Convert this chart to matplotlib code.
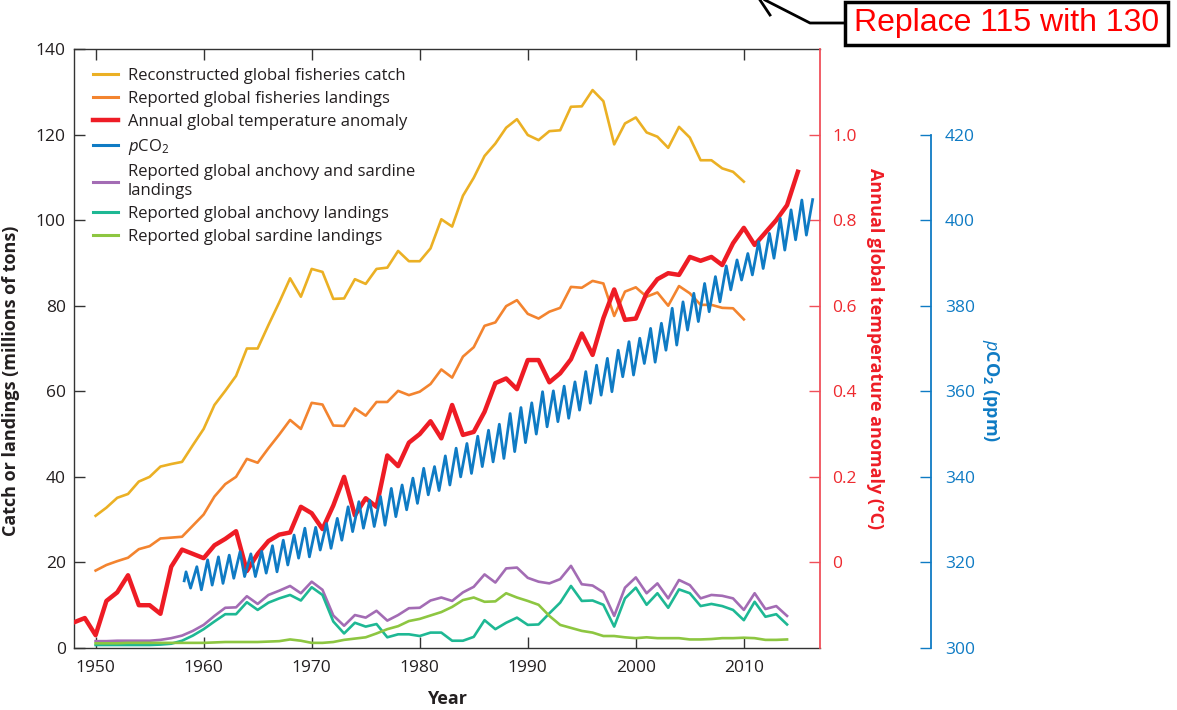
import numpy as np
import matplotlib
matplotlib.use("Agg")
import matplotlib.pyplot as plt
from matplotlib.lines import Line2D
from matplotlib.patches import Rectangle

plt.rcParams['font.family'] = ['Open Sans', 'DejaVu Sans']
plt.rcParams['mathtext.fontset'] = 'custom'
plt.rcParams['mathtext.it'] = 'Open Sans:italic'
plt.rcParams['mathtext.rm'] = 'Open Sans'
plt.rcParams['mathtext.bf'] = 'Open Sans:bold'

# ---------------- data ----------------
years_catch = list(range(1950, 2011))
catch_reconstructed = [30.9, 32.8, 35.1, 36.0, 38.9, 40.0, 42.4, 43.0, 43.5, 47.4,
                       51.2, 56.8, 60.1, 63.6, 70.0, 70.0, 75.5, 80.8, 86.4, 82.1,
                       88.6, 87.9, 81.6, 81.7, 86.2, 85.1, 88.6, 88.9, 92.8, 90.4,
                       90.4, 93.4, 100.2, 98.5, 105.7, 109.9, 115.0, 117.9, 121.6, 123.6,
                       119.9, 118.7, 120.8, 121.0, 126.5, 126.6, 130.4, 127.8, 117.7, 122.6,
                       124.0, 120.5, 119.5, 116.9, 121.8, 119.3, 114.0, 114.0, 112.1, 111.3,
                       109.0]
landings_reported = [18.1, 19.4, 20.3, 21.1, 23.1, 23.8, 25.6, 25.8, 26.0, 28.6,
                     31.2, 35.4, 38.3, 40.0, 44.2, 43.3, 46.7, 49.9, 53.3, 51.2,
                     57.3, 56.9, 52.0, 51.9, 56.0, 54.3, 57.5, 57.5, 60.1, 59.1,
                     59.9, 61.7, 65.1, 63.2, 68.1, 70.3, 75.3, 76.1, 79.9, 81.3,
                     78.1, 77.0, 78.6, 79.5, 84.4, 84.2, 85.8, 85.2, 77.6, 83.3,
                     84.3, 82.1, 83.1, 80.0, 84.6, 82.9, 80.2, 80.2, 79.5, 79.4,
                     76.8]

years_species = list(range(1950, 2015))
anchovy_sardine = [1.6, 1.6, 1.7, 1.7, 1.7, 1.7, 1.9, 2.3, 2.9, 4.0,
                   5.4, 7.5, 9.4, 9.5, 12.1, 10.3, 12.4, 13.4, 14.5, 12.8,
                   15.5, 13.6, 7.6, 5.2, 7.7, 7.1, 8.7, 6.4, 7.7, 9.3,
                   9.4, 11.1, 11.8, 11.0, 13.0, 14.3, 17.2, 15.3, 18.6, 18.8,
                   16.4, 15.5, 15.1, 16.1, 19.2, 14.9, 14.6, 13.0, 7.5, 14.1,
                   16.5, 12.8, 15.1, 11.6, 15.9, 14.7, 11.6, 12.4, 12.2, 11.6,
                   8.9, 12.8, 9.1, 9.8, 7.5]
anchovy = [0.7, 0.7, 0.7, 0.7, 0.7, 0.7, 0.8, 1.0, 1.7, 2.9,
           4.4, 6.2, 7.9, 7.9, 10.7, 8.9, 10.6, 11.6, 12.4, 11.1,
           14.2, 12.4, 6.2, 3.4, 5.9, 5.0, 5.6, 2.5, 3.2, 3.2,
           2.8, 3.6, 3.6, 1.7, 1.7, 2.6, 6.5, 4.4, 5.9, 7.1,
           5.4, 5.5, 8.1, 10.6, 14.5, 11.0, 11.1, 10.1, 5.0, 11.6,
           14.1, 10.1, 12.8, 9.4, 13.7, 12.8, 9.8, 10.3, 9.8, 8.9,
           6.5, 10.8, 7.3, 7.9, 5.5]
sardine = [1.1, 1.1, 1.1, 1.2, 1.2, 1.2, 1.2, 1.2, 1.2, 1.2,
           1.2, 1.3, 1.4, 1.4, 1.4, 1.4, 1.5, 1.6, 2.0, 1.7,
           1.2, 1.2, 1.4, 1.9, 2.2, 2.5, 3.4, 4.4, 5.1, 6.3,
           6.8, 7.6, 8.4, 9.6, 11.2, 11.8, 10.8, 10.9, 12.8, 11.8,
           11.0, 10.1, 7.5, 5.4, 4.7, 4.0, 3.6, 2.8, 2.8, 2.5,
           2.3, 2.5, 2.3, 2.3, 2.3, 2.0, 2.0, 2.1, 2.3, 2.3,
           2.4, 2.3, 1.9, 1.9, 2.0]

years_temp = list(range(1948, 2016))
temp_anomaly = [-0.14, -0.13, -0.17, -0.09, -0.07, -0.03, -0.10, -0.10, -0.12, -0.01,
                0.03, 0.02, 0.01, 0.04, 0.055, 0.073, -0.02, 0.02, 0.05, 0.065,
                0.07, 0.13, 0.115, 0.078, 0.133, 0.20, 0.11, 0.15, 0.13, 0.25,
                0.225, 0.28, 0.30, 0.33, 0.29, 0.368, 0.298, 0.305, 0.352, 0.419,
                0.43, 0.405, 0.473, 0.473, 0.421, 0.442, 0.475, 0.535, 0.485, 0.571,
                0.638, 0.567, 0.57, 0.629, 0.662, 0.676, 0.672, 0.714, 0.705, 0.714,
                0.695, 0.746, 0.782, 0.742, 0.771, 0.80, 0.835, 0.913]

# pCO2 (Mauna Loa style record): seasonal maxima (~May) and minima (~Oct)
co2_start = (1958.2, 315.7)
co2_years = list(range(1958, 2017))
co2_peak = [317.8, 319.0, 320.6, 321.3, 321.7, 322.5, 322.0, 322.6, 323.9, 325.2,
            326.4, 328.0, 328.2, 329.1, 330.3, 333.0, 334.2, 334.5, 335.4, 337.3,
            338.1, 339.7, 342.0, 342.4, 344.9, 346.7, 347.8, 349.5, 350.9, 352.3,
            354.8, 356.2, 357.3, 359.9, 360.1, 361.2, 362.2, 364.6, 366.1, 367.7,
            369.6, 371.6, 372.4, 374.7, 375.9, 379.4, 380.9, 382.9, 385.2, 386.8,
            389.3, 390.7, 392.2, 395.0, 396.9, 400.4, 402.4, 404.7, 404.8]
co2_trough = [314.0, 313.6, 314.7, 315.1, 316.3, 316.7, 316.7, 317.5, 317.8, 319.4,
              321.0, 321.3, 322.9, 323.3, 325.2, 327.2, 328.0, 328.4, 328.7, 330.7,
              332.3, 333.8, 335.8, 336.8, 338.1, 340.0, 340.8, 342.4, 343.5, 344.3,
              345.9, 348.0, 350.0, 351.7, 352.9, 353.7, 355.6, 357.2, 359.1, 359.9,
              363.4, 363.8, 366.5, 366.8, 369.6, 370.8, 374.3, 376.3, 378.6, 380.9,
              383.7, 386.0, 387.2, 388.7, 391.1, 393.0, 395.4, 396.5]

labels = ["Reconstructed global fisheries catch",
          "Reported global fisheries landings",
          "Annual global temperature anomaly",
          r"$\it{p}$CO$_2$",
          "Reported global anchovy and sardine\nlandings",
          "Reported global anchovy landings",
          "Reported global sardine landings"]

# ---------------- style ----------------
C_YEL = '#EBB024'
C_ORA = '#F3842F'
C_RED = '#EE1C25'
C_BLU = '#0F7BC4'
C_PUR = '#A36CB4'
C_TEA = '#1EB894'
C_GRN = '#8DC641'
C_REDAX = '#F0505A'
C_TXT = '#231F20'

W, H = 1177, 710
fig = plt.figure(figsize=(W / 100, H / 100), dpi=100)
ax = fig.add_axes([74 / W, 1 - 648 / H, 746 / W, 599 / H])
ax2 = ax.twinx()
ax3 = ax.twinx()

# series
l1, = ax.plot(years_catch, catch_reconstructed, color=C_YEL, lw=1.9)
l2, = ax.plot(years_catch, landings_reported, color=C_ORA, lw=1.9)
l5, = ax.plot(years_species, anchovy_sardine, color=C_PUR, lw=1.9)
l6, = ax.plot(years_species, anchovy, color=C_TEA, lw=1.9)
l7, = ax.plot(years_species, sardine, color=C_GRN, lw=1.9)
l3, = ax2.plot(years_temp, temp_anomaly, color=C_RED, lw=3.2)

co2_x = [co2_start[0]]
co2_y = [co2_start[1]]
for i, yr in enumerate(co2_years):
    co2_x.append(yr + 0.37)
    co2_y.append(co2_peak[i])
    if i < len(co2_trough):
        co2_x.append(yr + 0.79)
        co2_y.append(co2_trough[i])
l4, = ax3.plot(co2_x, co2_y, color=C_BLU, lw=2.0)

# axes limits
ax.set_xlim(1948, 2017.05)
ax.set_ylim(0, 140)
ax2.set_ylim(-0.2, 1.2)
ax3.set_ylim(300, 440)

# left / bottom / top
ax.set_xticks(range(1950, 2011, 10))
ax.set_yticks(range(0, 141, 20))
ax.tick_params(axis='both', direction='in', length=8, width=1.0, colors='#333333',
               labelcolor=C_TXT, labelsize=12.5)
ax.tick_params(axis='x', top=True, pad=9)
ax.tick_params(axis='y', pad=6)
for s in ['left', 'bottom', 'top']:
    ax.spines[s].set_color('#333333')
    ax.spines[s].set_linewidth(1.0)
ax.spines['right'].set_visible(False)
ax.set_xlabel('Year', fontsize=13, fontweight='bold', color=C_TXT, labelpad=10)
ax.set_ylabel('Catch or landings (millions of tons)', fontsize=13, fontweight='bold',
              color=C_TXT)
ax.yaxis.set_label_coords(-0.072, 0.446)

# temperature axis
for s in ['left', 'bottom', 'top']:
    ax2.spines[s].set_visible(False)
ax2.spines['right'].set_color(C_REDAX)
ax2.spines['right'].set_linewidth(1.3)
ax2.set_yticks([0, 0.2, 0.4, 0.6, 0.8, 1.0])
ax2.set_yticklabels(['0', '0.2', '0.4', '0.6', '0.8', '1.0'])
ax2.tick_params(axis='y', direction='in', length=8, width=1.0, colors=C_REDAX,
                labelcolor='#EE2A2F', labelsize=12.5, pad=9)
ax2.set_ylabel('Annual global temperature anomaly (°C)', fontsize=13, fontweight='bold',
               color=C_RED, rotation=270)
ax2.yaxis.set_label_coords(1.086, 0.5)

# pCO2 axis
for s in ['left', 'bottom', 'top']:
    ax3.spines[s].set_visible(False)
ax3.spines['right'].set_position(('axes', 1.149))
ax3.spines['right'].set_bounds(300, 420)
ax3.spines['right'].set_color(C_BLU)
ax3.spines['right'].set_linewidth(1.3)
ax3.set_yticks(range(300, 421, 20))
ax3.tick_params(axis='y', direction='in', length=8, width=1.0, colors=C_BLU,
                labelcolor=C_BLU, labelsize=12.5, pad=10)
ax3.set_ylabel(r'$\mathbf{\it{p}}$$\mathbf{CO_2}$ (ppm)', fontsize=13, fontweight='bold',
               color=C_BLU, rotation=270)
ax3.yaxis.set_label_coords(1.243, 0.43)

# legend
handles = [Line2D([], [], color=C_YEL, lw=2.2),
           Line2D([], [], color=C_ORA, lw=2.2),
           Line2D([], [], color=C_RED, lw=3.2),
           Line2D([], [], color=C_BLU, lw=2.2),
           Line2D([], [], color=C_PUR, lw=2.2),
           Line2D([], [], color=C_TEA, lw=2.2),
           Line2D([], [], color=C_GRN, lw=2.2)]
leg = ax3.legend(handles, labels, loc='upper left', bbox_to_anchor=(0.026, 0.968),
                 frameon=False, fontsize=12, handlelength=1.5, handletextpad=0.55,
                 labelspacing=0.42, borderpad=0, borderaxespad=0)
for t in leg.get_texts():
    t.set_color(C_TXT)

# editorial annotation at the top right
fig.add_artist(Line2D([765 / W, 810 / W, 845 / W], [1.0, 1 - 23 / H, 1 - 23 / H],
                      transform=fig.transFigure, color='black', lw=2))
fig.add_artist(Line2D([760 / W, 770 / W], [1.0, 1 - 15 / H],
                      transform=fig.transFigure, color='black', lw=2))
fig.add_artist(Rectangle((845 / W, 1 - 45 / H), (1168 - 845) / W, 43 / H,
                         transform=fig.transFigure, facecolor='white',
                         edgecolor='black', lw=2.5))
fig.text(1006.5 / W, 1 - 23 / H, 'Replace 115 with 130', color='#FF0000',
         fontsize=23, family='Liberation Sans', ha='center', va='center')

fig.savefig('out.png', dpi=100)
